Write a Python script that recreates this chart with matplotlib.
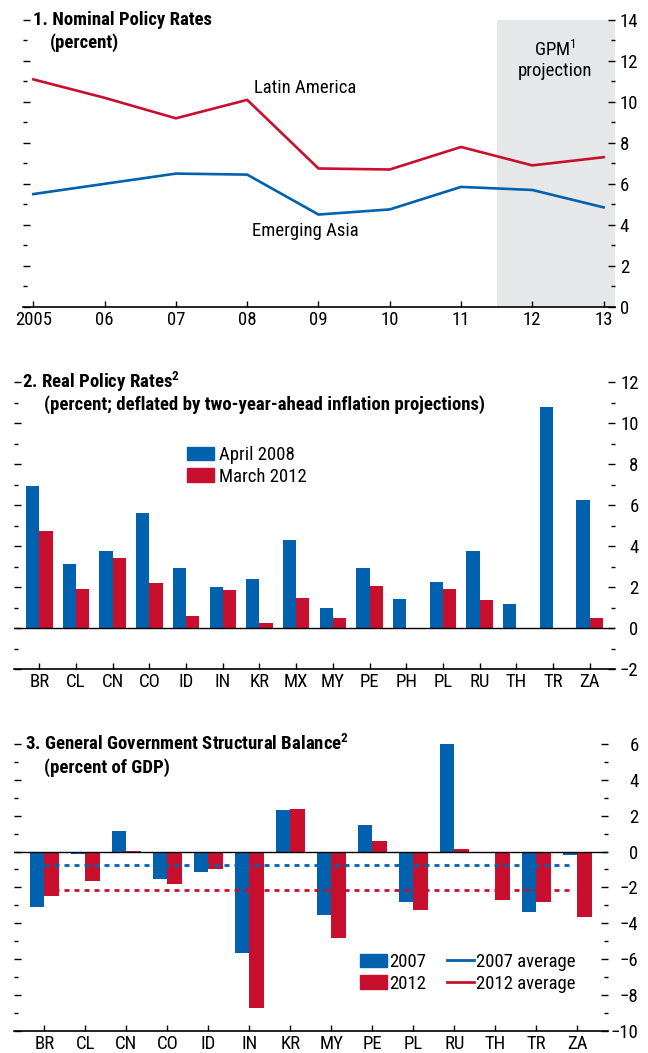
import matplotlib
matplotlib.use('Agg')
import matplotlib.pyplot as plt
from matplotlib import font_manager as fm
from matplotlib.ticker import MultipleLocator
from matplotlib.patches import Patch
from matplotlib.lines import Line2D
import numpy as np

# ---------------- data ----------------
years = [2005, 2006, 2007, 2008, 2009, 2010, 2011, 2012, 2013]
year_labels = ['2005', '06', '07', '08', '09', '10', '11', '12', '13']
latin_america = [11.1, 10.2, 9.2, 10.1, 6.75, 6.7, 7.8, 6.9, 7.3]
emerging_asia = [5.5, 6.0, 6.5, 6.45, 4.5, 4.75, 5.85, 5.7, 4.85]
projection_start = 2011.5

real_countries = ['BR', 'CL', 'CN', 'CO', 'ID', 'IN', 'KR', 'MX', 'MY', 'PE',
                  'PH', 'PL', 'RU', 'TH', 'TR', 'ZA']
real_apr2008 = [6.92, 3.13, 3.76, 5.61, 2.93, 2.01, 2.40, 4.29, 0.99, 2.93,
                1.43, 2.25, 3.76, 1.18, 10.76, 6.24]
real_mar2012 = [4.73, 1.91, 3.42, 2.20, 0.60, 1.86, 0.26, 1.47, 0.50, 2.06,
                0.0, 1.91, 1.38, 0.0, 0.0, 0.50]

bal_countries = ['BR', 'CL', 'CN', 'CO', 'ID', 'IN', 'KR', 'MY', 'PE', 'PL',
                 'RU', 'TH', 'TR', 'ZA']
bal_2007 = [-3.07, -0.13, 1.15, -1.53, -1.17, -5.64, 2.33, -3.52, 1.49, -2.79,
            6.00, -0.06, -3.35, -0.17]
bal_2012 = [-2.51, -1.64, 0.02, -1.84, -0.95, -8.76, 2.38, -4.80, 0.60, -3.26,
            0.15, -2.73, -2.81, -3.68]
avg_2007 = -0.74
avg_2012 = -2.12

# ---------------- style ----------------
names = {f.name for f in fm.fontManager.ttflist}
FONT = 'DejaVu Sans'
for cand in ['Liberation Sans Narrow', 'Roboto Condensed', 'Open Sans Condensed',
             'DejaVu Sans Condensed']:
    if cand in names:
        FONT = cand
        break
plt.rcParams['font.family'] = [FONT, 'DejaVu Sans']
plt.rcParams['font.stretch'] = 'condensed'
plt.rcParams['mathtext.fontset'] = 'custom'
plt.rcParams['mathtext.rm'] = FONT
plt.rcParams['mathtext.bf'] = FONT + ':bold'
plt.rcParams['mathtext.it'] = FONT

BLUE = '#0061AE'
RED = '#C8102E'
GREY = '#E6E7E8'
FS = 13.5
TFS = 13.5

W, H = 648, 1053
fig = plt.figure(figsize=(W / 100, H / 100), dpi=100)


def axes_px(left, right, top, bottom):
    return fig.add_axes([left / W, 1 - bottom / H, (right - left) / W, (bottom - top) / H])


def style_axes(ax, ymin, ymax, right_ha='left', label_pad=4):
    for s in ['left', 'right', 'top']:
        ax.spines[s].set_visible(False)
    ax.spines['bottom'].set_linewidth(1.2)
    ax.set_ylim(ymin, ymax)
    ax.yaxis.set_major_locator(MultipleLocator(2))
    ax.yaxis.set_minor_locator(MultipleLocator(1))
    ax.tick_params(axis='y', which='both', direction='in', left=True, right=True,
                   labelleft=False, labelright=True, labelsize=FS, width=1.0)
    ax.tick_params(axis='y', which='major', length=5, pad=label_pad)
    ax.tick_params(axis='y', which='minor', length=2.8)
    for lab in ax.get_yticklabels():
        lab.set_ha(right_ha)
    ax.tick_params(axis='x', which='both', direction='in', length=4.5, width=1.0,
                   labelsize=FS, pad=3, bottom=True, top=False)


# ---------------- Panel 1 ----------------
ax1 = axes_px(23, 615, 20, 306.7)
ax1.axvspan(projection_start, 2013.16, color=GREY, lw=0, zorder=0)
ax1.plot(years, latin_america, color=RED, lw=1.9, zorder=3)
ax1.plot(years, emerging_asia, color=BLUE, lw=1.9, zorder=3)
ax1.set_xlim(2004.855, 2013.16)
style_axes(ax1, 0, 14, right_ha='left', label_pad=3.5)
ax1.set_xticks(years)
ax1.set_xticklabels(year_labels)
ax1.text(0.017, 14, '1. Nominal Policy Rates', transform=ax1.get_yaxis_transform(),
         fontsize=TFS, fontweight='bold', va='center', ha='left')
ax1.text(0.046, 12.88, '(percent)', transform=ax1.get_yaxis_transform(),
         fontsize=TFS, fontweight='bold', va='center', ha='left')
ax1.text(2008.81, 10.68, 'Latin America', fontsize=FS, ha='center', va='center')
ax1.text(2008.81, 3.69, 'Emerging Asia', fontsize=FS, ha='center', va='center')
ax1.text(2012.32, 12.53, r'GPM$^{1}$', fontsize=FS, ha='center', va='center')
ax1.text(2012.32, 11.5, 'projection', fontsize=FS, ha='center', va='center')

# ---------------- Panel 2 ----------------
ax2 = axes_px(14, 615, 382, 669.3)
x2 = np.arange(len(real_countries))
bw = 0.36
ax2.bar(x2 - bw / 2, real_apr2008, width=bw, color=BLUE, zorder=2)
ax2.bar(x2 + bw / 2, real_mar2012, width=bw, color=RED, zorder=2)
ax2.axhline(0, color='black', lw=1.0, zorder=3)
ax2.set_xlim(-0.69, len(real_countries) - 1 + 0.69)
style_axes(ax2, -2, 12, right_ha='right', label_pad=17)
ax2.set_xticks(x2)
ax2.set_xticklabels(real_countries)
ax2.text(0.013, 12, r'2. Real Policy Rates$^{\mathbf{2}}$', transform=ax2.get_yaxis_transform(),
         fontsize=TFS, fontweight='bold', va='center', ha='left')
ax2.text(0.05, 10.9, '(percent; deflated by two-year-ahead inflation projections)',
         transform=ax2.get_yaxis_transform(),
         fontsize=TFS, fontweight='bold', va='center', ha='left')
ax2.legend(handles=[Patch(color=BLUE, label='April 2008'),
                    Patch(color=RED, label='March 2012')],
           loc='upper left', bbox_to_anchor=(187 / W, 1 - 446 / H),
           bbox_transform=fig.transFigure, frameon=False, fontsize=FS,
           handlelength=1.45, handleheight=0.75, handletextpad=0.27,
           labelspacing=0.2, borderpad=0, borderaxespad=0)

# ---------------- Panel 3 ----------------
ax3 = axes_px(14, 608, 744, 1030.7)
x3 = np.arange(len(bal_countries))
bw3 = 0.35
ax3.bar(x3 - bw3 / 2, bal_2007, width=bw3, color=BLUE, zorder=2)
ax3.bar(x3 + bw3 / 2, bal_2012, width=bw3, color=RED, zorder=2)
ax3.axhline(0, color='black', lw=1.0, zorder=3)
ax3.plot([x3[0], x3[-1] - 0.15], [avg_2007, avg_2007], color=BLUE, lw=2.0,
         dashes=(1.8, 1.8), zorder=4)
ax3.plot([x3[0], x3[-1] - 0.15], [avg_2012, avg_2012], color=RED, lw=2.0,
         dashes=(1.8, 1.8), zorder=4)
ax3.set_xlim(-0.74, len(bal_countries) - 1 + 0.75)
style_axes(ax3, -10, 6, right_ha='right', label_pad=22)
ax3.set_xticks(x3)
ax3.set_xticklabels(bal_countries)
ax3.text(0.018, 6, r'3. General Government Structural Balance$^{\mathbf{2}}$',
         transform=ax3.get_yaxis_transform(),
         fontsize=TFS, fontweight='bold', va='center', ha='left')
ax3.text(0.05, 4.7, '(percent of GDP)', transform=ax3.get_yaxis_transform(),
         fontsize=TFS, fontweight='bold', va='center', ha='left')
ax3.legend(handles=[Patch(color=BLUE, label='2007'),
                    Patch(color=RED, label='2012'),
                    Line2D([], [], color=BLUE, lw=2, label='2007 average'),
                    Line2D([], [], color=RED, lw=2, label='2012 average')],
           ncol=2, loc='upper left', bbox_to_anchor=(360 / W, 1 - 953 / H),
           bbox_transform=fig.transFigure, frameon=False, fontsize=FS,
           handlelength=1.45, handleheight=0.75, handletextpad=0.1,
           labelspacing=0.2, columnspacing=1.1, borderpad=0, borderaxespad=0)

fig.savefig('out.png', dpi=100)
